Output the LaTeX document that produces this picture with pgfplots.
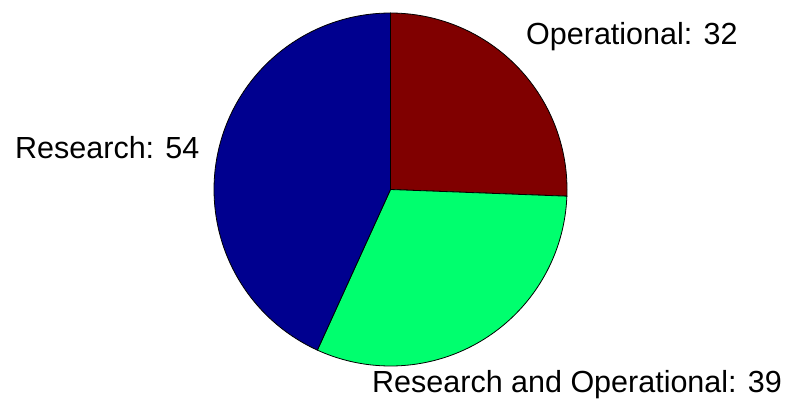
\documentclass[border=0pt]{standalone}
\usepackage{pgfplots}
\pgfplotsset{compat=1.18}
\usepackage{pgfplotstable}
\usepackage{fontspec}
\setmainfont{Liberation Sans}

\definecolor{pieRed}{RGB}{128,0,0}
\definecolor{pieGreen}{RGB}{0,255,110}
\definecolor{pieBlue}{RGB}{0,0,143}

\pgfplotstableread[col sep=comma]{
label,value
Operational,32
Research and Operational,39
Research,54
}\piedata

\begin{document}
\begin{tikzpicture}
\pgfplotstablegetelem{0}{value}\of\piedata \let\va\pgfplotsretval
\pgfplotstablegetelem{1}{value}\of\piedata \let\vb\pgfplotsretval
\pgfplotstablegetelem{2}{value}\of\piedata \let\vc\pgfplotsretval
\pgfmathsetmacro\total{\va+\vb+\vc}
% clockwise from the top
\pgfmathsetmacro\aA{90}
\pgfmathsetmacro\aB{90-360*\va/\total}
\pgfmathsetmacro\aC{\aB-360*\vb/\total}
\pgfmathsetmacro\aD{90-360}
\def\cx{390.5}\def\cy{189.5}\def\rr{176.5}
\begin{axis}[
  scale only axis, width=787pt, height=401pt,
  xmin=0, xmax=787, ymin=0, ymax=401, y dir=reverse,
  hide axis, clip=false,
]
\path (rel axis cs:0,0) rectangle (rel axis cs:1,1);
\addplot[fill=pieRed, draw=black, line width=0.8pt, domain=\aB:\aA, samples=90]
  ({\cx+\rr*cos(x)}, {\cy-\rr*sin(x)}) -- (axis cs:\cx,\cy) -- cycle;
\addplot[fill=pieGreen, draw=black, line width=0.8pt, domain=\aC:\aB, samples=90]
  ({\cx+\rr*cos(x)}, {\cy-\rr*sin(x)}) -- (axis cs:\cx,\cy) -- cycle;
\addplot[fill=pieBlue, draw=black, line width=0.8pt, domain=\aD:\aC, samples=120]
  ({\cx+\rr*cos(x)}, {\cy-\rr*sin(x)}) -- (axis cs:\cx,\cy) -- cycle;
\node[anchor=base west, inner sep=0pt, font=\fontsize{30.5}{36}\selectfont] at (axis cs:526,45) {Operational: \va};
\node[anchor=base west, inner sep=0pt, font=\fontsize{30.5}{36}\selectfont] at (axis cs:15,158) {Research: \vc};
\node[anchor=base west, inner sep=0pt, font=\fontsize{30.5}{36}\selectfont] at (axis cs:372,392) {Research and Operational: \vb};
\end{axis}
\end{tikzpicture}
\end{document}
